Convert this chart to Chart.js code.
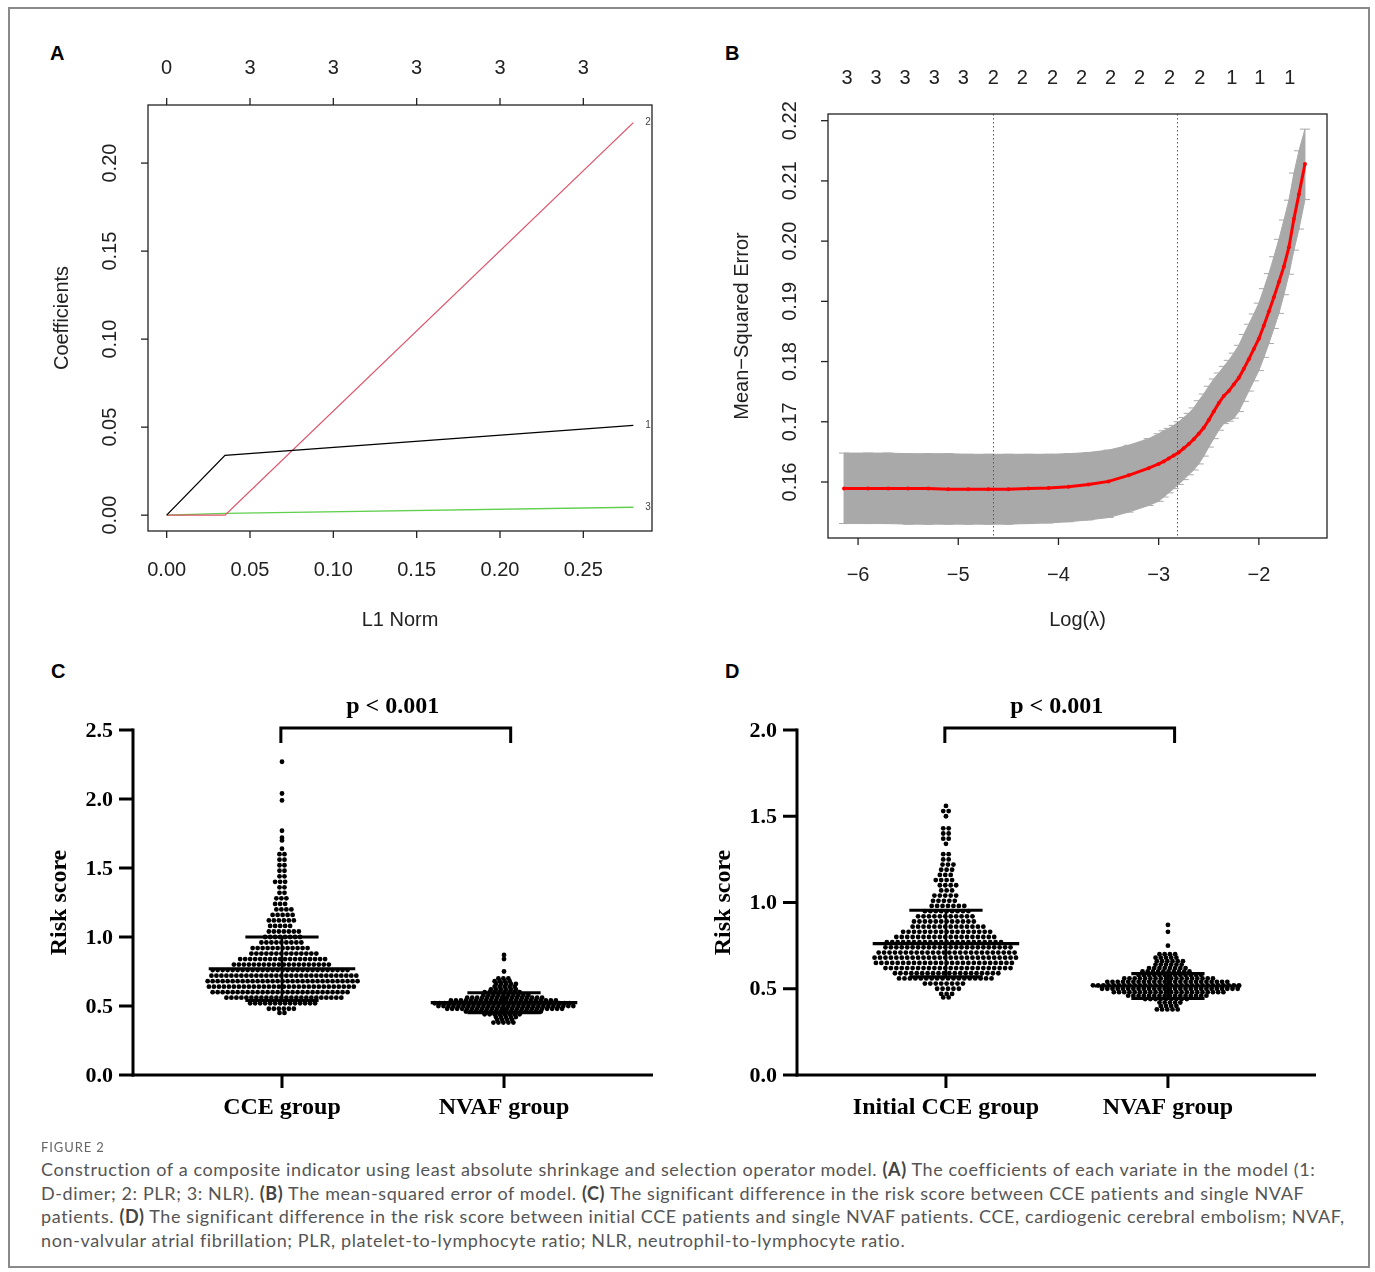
<!DOCTYPE html>
<html>
<head>
<meta charset="utf-8">
<script src="https://cdn.jsdelivr.net/npm/chart.js@4.4.0/dist/chart.umd.min.js"></script>
<style>
  body { margin: 0; background: #fff; width: 1375px; height: 1272px; position: relative; overflow: hidden; }
  .frame { position: absolute; left: 8px; top: 7px; width: 1358px; height: 1257px; border: 2px solid #8a8a8a; z-index: 5; pointer-events: none; }
  canvas { position: absolute; }
  .letter { position: absolute; font: bold 20px "Liberation Sans", Arial, sans-serif; line-height: 20px; color: #000; }
  #figlabel { position: absolute; left: 41px; top: 1139px; font: 13px Lato, sans-serif; color: #666; letter-spacing: 0.9px; }
  #caption { position: absolute; left: 41px; top: 1158px; font: 18px Lato, sans-serif; letter-spacing: 0.62px; line-height: 23.6px; color: #555; white-space: nowrap; }
  #caption b { color: #444; }
</style>
</head>
<body>
<div class="frame"></div>
<div class="letter" style="left:50px;top:43px">A</div>
<div class="letter" style="left:725px;top:43px">B</div>
<div class="letter" style="left:51px;top:661px">C</div>
<div class="letter" style="left:725px;top:661px">D</div>

<canvas id="chartA" width="680" height="640" style="left:20px;top:20px"></canvas>
<canvas id="chartB" width="670" height="640" style="left:700px;top:20px"></canvas>
<canvas id="chartC" width="680" height="480" style="left:20px;top:670px"></canvas>
<canvas id="chartD" width="670" height="480" style="left:700px;top:670px"></canvas>

<div id="figlabel">FIGURE 2</div>
<div id="caption">Construction of a composite indicator using least absolute shrinkage and selection operator model. <b>(A)</b> The coefficients of each variate in the model (1:<br>D-dimer; 2: PLR; 3: NLR). <b>(B)</b> The mean-squared error of model. <b>(C)</b> The significant difference in the risk score between CCE patients and single NVAF<br>patients. <b>(D)</b> The significant difference in the risk score between initial CCE patients and single NVAF patients. CCE, cardiogenic cerebral embolism; NVAF,<br>non-valvular atrial fibrillation; PLR, platelet-to-lymphocyte ratio; NLR, neutrophil-to-lymphocyte ratio.</div>

<script>
// ---- panel A: coefficient paths ----
const l1Norm = [0, 0.035, 0.28];
const coefDdimer = [0, 0.034, 0.051];
const coefPLR = [0, 0, 0.223];
const coefNLR = [0, 0.001, 0.0045];
const l1Ticks = [0, 0.05, 0.10, 0.15, 0.20, 0.25];
const dfTop = ['0', '3', '3', '3', '3', '3'];
const coefTicks = [0, 0.05, 0.10, 0.15, 0.20];

// ---- panel B: cross-validation curve ----
const logLambda = [-6.14, -5.9, -5.7, -5.5, -5.3, -5.1, -4.9, -4.7, -4.5, -4.3, -4.1, -3.9, -3.7, -3.5, -3.3, -3.1,
  -3.0, -2.95, -2.9, -2.85, -2.8, -2.75, -2.7, -2.65, -2.6, -2.55, -2.5, -2.45, -2.4, -2.35, -2.3, -2.25, -2.2,
  -2.15, -2.1, -2.05, -2.0, -1.95, -1.9, -1.85, -1.8, -1.75, -1.7, -1.65, -1.6, -1.54];
const cvm = [.1589, .1589, .1589, .1589, .1589, .1588, .1588, .1588, .1588, .1589, .1590, .1592, .1596, .1601, .1611, .1623,
  .1630, .1634, .1639, .1644, .1649, .1656, .1663, .1671, .1680, .1690, .1703, .1717, .1731, .1743, .1751, .1762, .1773,
  .1788, .1804, .1821, .1838, .1860, .1883, .1907, .1932, .1958, .1990, .2037, .2078, .2128];
const cvup = [.1648, .1648, .1648, .1647, .1647, .1647, .1646, .1646, .1646, .1646, .1646, .1647, .1649, .1653, .1661, .1672,
  .1680, .1685, .1689, .1694, .1700, .1707, .1714, .1723, .1735, .1746, .1759, .1771, .1781, .1792, .1802, .1814, .1827,
  .1845, .1862, .1879, .1897, .1921, .1946, .1974, .2003, .2035, .2068, .2113, .2150, .2186];
const cvlo = [.1531, .1531, .1531, .1530, .1530, .1530, .1530, .1530, .1530, .1531, .1532, .1534, .1537, .1541, .1550, .1561,
  .1568, .1575, .1582, .1589, .1596, .1604, .1612, .1620, .1630, .1643, .1658, .1672, .1686, .1697, .1701, .1706, .1717,
  .1734, .1751, .1768, .1785, .1807, .1830, .1855, .1880, .1911, .1945, .1985, .2020, .2069];
const lambdaMin = -4.653;
const lambda1se = -2.817;
const nzPos = [-6.11, -5.82, -5.53, -5.24, -4.95, -4.65, -4.36, -4.06, -3.77, -3.48, -3.19, -2.89, -2.59, -2.27, -1.99, -1.69];
const nzLabels = ['3', '3', '3', '3', '3', '2', '2', '2', '2', '2', '2', '2', '2', '1', '1', '1'];
const logTicks = [-6, -5, -4, -3, -2];
const mseTicks = [0.16, 0.17, 0.18, 0.19, 0.20, 0.21, 0.22];

// ---- panel C: risk score, CCE vs NVAF ----
const groupsC = ['CCE group', 'NVAF group'];
const cceScoreC = [2.27, 2.04, 1.99, 1.77, 1.72, 1.70, 1.64, 1.60, 1.56, 1.52, 1.48, 1.44, 1.40, 1.36, 1.32, 1.28, 1.24,
  1.20, 1.16, 1.12, 1.08, 1.04, 1.00, 0.96, 0.92, 0.88, 0.84, 0.80, 0.76, 0.72, 0.68, 0.64, 0.60, 0.56, 0.52, 0.48, 0.45];
const cceCountC = [1, 1, 1, 1, 1, 1, 1, 2, 2, 2, 2, 2, 3, 2, 2, 3, 3,
  4, 5, 6, 5, 7, 8, 9, 12, 14, 18, 20, 28, 30, 31, 30, 28, 24, 14, 6, 2];
const nvafScoreC = [0.87, 0.84, 0.75, 0.70, 0.68, 0.66, 0.64, 0.62, 0.60, 0.58, 0.56, 0.54, 0.52, 0.50, 0.48, 0.46, 0.44, 0.42, 0.40, 0.38];
const nvafCountC = [1, 1, 1, 3, 4, 5, 5, 6, 8, 10, 16, 22, 28, 28, 24, 16, 8, 5, 4, 5];
const meanC = [0.77, 0.524];
const sdC = [0.23, 0.072];
const riskTicksC = [0, 0.5, 1.0, 1.5, 2.0, 2.5];

// ---- panel D: risk score, initial CCE vs NVAF ----
const groupsD = ['Initial CCE group', 'NVAF group'];
const cceScoreD = [1.56, 1.53, 1.50, 1.43, 1.40, 1.37, 1.34, 1.28, 1.25, 1.22, 1.19, 1.16, 1.13, 1.10, 1.07, 1.04, 1.01,
  0.98, 0.95, 0.92, 0.89, 0.86, 0.83, 0.80, 0.77, 0.74, 0.71, 0.68, 0.65, 0.62, 0.59, 0.56, 0.53, 0.50, 0.47, 0.45];
const cceCountD = [1, 2, 1, 2, 2, 2, 1, 2, 2, 3, 3, 3, 4, 4, 3, 5, 5,
  7, 9, 11, 12, 14, 17, 19, 22, 24, 26, 27, 26, 24, 20, 18, 8, 5, 3, 2];
const nvafScoreD = [0.87, 0.83, 0.75, 0.70, 0.68, 0.66, 0.64, 0.62, 0.60, 0.58, 0.56, 0.54, 0.52, 0.50, 0.48, 0.46, 0.44, 0.42, 0.40, 0.38];
const nvafCountD = [1, 1, 1, 4, 5, 6, 6, 8, 10, 13, 18, 24, 29, 27, 22, 16, 9, 5, 4, 5];
const meanD = [0.762, 0.516];
const sdD = [0.193, 0.072];
const riskTicksD = [0, 0.5, 1.0, 1.5, 2.0];

const RFONT = '"Liberation Sans", Arial, sans-serif';
const SERIF = '"Liberation Serif", "Times New Roman", serif';

function seg(ctx, x1, y1, x2, y2) {
  ctx.beginPath(); ctx.moveTo(x1, y1); ctx.lineTo(x2, y2); ctx.stroke();
}
function vtext(ctx, s, x, y) {
  ctx.save(); ctx.translate(x, y); ctx.rotate(-Math.PI / 2); ctx.fillText(s, 0, 0); ctx.restore();
}
function pairs(xs, ys) { return xs.map((v, i) => ({ x: v, y: ys[i] })); }

// beeswarm rows: each value row is spread sideways around its group position,
// successive rows get a different sideways phase so the swarm is less grid-like
function swarm(vals, counts, center, step) {
  const pts = [];
  vals.forEach((v, r) => {
    const n = counts[r];
    const phase = n > 2 ? (((r * 3) % 4) / 4 - 0.375) * step : 0;
    for (let i = 0; i < n; i++) pts.push({ x: center + (i - (n - 1) / 2) * step + phase, y: v });
  });
  return pts;
}

const baseOpts = (pad, xs, ys) => ({
  responsive: false, animation: false, devicePixelRatio: 1,
  layout: { padding: pad },
  plugins: { legend: { display: false }, tooltip: { enabled: false } },
  scales: {
    x: Object.assign({ type: 'linear', display: false }, xs),
    y: Object.assign({ type: 'linear', display: false }, ys)
  }
});

// ---------- A ----------
const rAxesA = {
  id: 'rAxesA',
  afterDraw(chart) {
    const { ctx, chartArea: a, scales: { x, y } } = chart;
    ctx.save();
    ctx.strokeStyle = '#222'; ctx.fillStyle = '#222'; ctx.lineWidth = 1.3;
    ctx.strokeRect(a.left, a.top, a.right - a.left, a.bottom - a.top);
    ctx.font = '20px ' + RFONT; ctx.textAlign = 'center'; ctx.textBaseline = 'middle';
    l1Ticks.forEach((v, i) => {
      const px = x.getPixelForValue(v);
      seg(ctx, px, a.bottom, px, a.bottom + 7);
      ctx.fillText(v.toFixed(2), px, a.bottom + 39);
      seg(ctx, px, a.top, px, a.top - 7);
      ctx.fillText(dfTop[i], px, a.top - 37);
    });
    coefTicks.forEach(v => {
      const py = y.getPixelForValue(v);
      seg(ctx, a.left, py, a.left - 7, py);
      vtext(ctx, v.toFixed(2), a.left - 38, py);
    });
    ctx.fillText('L1 Norm', (a.left + a.right) / 2, a.bottom + 89);
    vtext(ctx, 'Coefficients', a.left - 86, (a.top + a.bottom) / 2);
    ctx.font = '10px ' + RFONT; ctx.fillStyle = '#444';
    const last = l1Norm.length - 1;
    [['1', coefDdimer], ['2', coefPLR], ['3', coefNLR]].forEach(([lab, arr]) => {
      ctx.fillText(lab, a.right - 4, y.getPixelForValue(arr[last]));
    });
    ctx.restore();
  }
};

new Chart(document.getElementById('chartA'), {
  type: 'line',
  data: {
    datasets: [
      { data: pairs(l1Norm, coefDdimer), borderColor: '#000', borderWidth: 1.3, pointRadius: 0, tension: 0 },
      { data: pairs(l1Norm, coefPLR), borderColor: '#DF536B', borderWidth: 1.3, pointRadius: 0, tension: 0 },
      { data: pairs(l1Norm, coefNLR), borderColor: '#61D04F', borderWidth: 1.3, pointRadius: 0, tension: 0 }
    ]
  },
  options: baseOpts({ left: 128, top: 85, right: 48, bottom: 129 },
    { min: -0.0112, max: 0.2912 }, { min: -0.009, max: 0.233 }),
  plugins: [rAxesA]
});

// ---------- B ----------
const rAxesB = {
  id: 'rAxesB',
  beforeDatasetsDraw(chart) {
    const { ctx, scales: { x, y } } = chart;
    ctx.save();
    ctx.strokeStyle = '#A9A9A9'; ctx.lineWidth = 1;
    logLambda.forEach((v, i) => {
      const x1 = x.getPixelForValue(v - 0.05), x2 = x.getPixelForValue(v + 0.05);
      seg(ctx, x1, y.getPixelForValue(cvup[i]), x2, y.getPixelForValue(cvup[i]));
      seg(ctx, x1, y.getPixelForValue(cvlo[i]), x2, y.getPixelForValue(cvlo[i]));
      const px = x.getPixelForValue(v);
      seg(ctx, px, y.getPixelForValue(cvup[i]), px, y.getPixelForValue(cvlo[i]));
    });
    ctx.restore();
  },
  afterDatasetsDraw(chart) {
    const { ctx, chartArea: a, scales: { x } } = chart;
    ctx.save();
    ctx.strokeStyle = '#555'; ctx.lineWidth = 1; ctx.setLineDash([1.5, 2.5]);
    [lambdaMin, lambda1se].forEach(v => {
      const px = Math.round(x.getPixelForValue(v)) + 0.5;
      seg(ctx, px, a.top, px, a.bottom);
    });
    ctx.restore();
  },
  afterDraw(chart) {
    const { ctx, chartArea: a, scales: { x, y } } = chart;
    ctx.save();
    ctx.strokeStyle = '#222'; ctx.fillStyle = '#222'; ctx.lineWidth = 1.3;
    ctx.strokeRect(a.left, a.top, a.right - a.left, a.bottom - a.top);
    ctx.font = '20px ' + RFONT; ctx.textAlign = 'center'; ctx.textBaseline = 'middle';
    logTicks.forEach(v => {
      const px = x.getPixelForValue(v);
      seg(ctx, px, a.bottom, px, a.bottom + 7);
      ctx.fillText('\u2212' + Math.abs(v), px, a.bottom + 37);
    });
    mseTicks.forEach(v => {
      const py = y.getPixelForValue(v);
      seg(ctx, a.left, py, a.left - 7, py);
      vtext(ctx, v.toFixed(2), a.left - 38, py);
    });
    nzPos.forEach((v, i) => ctx.fillText(nzLabels[i], x.getPixelForValue(v), a.top - 36));
    ctx.fillText('Log(\u03bb)', (a.left + a.right) / 2, a.bottom + 82);
    vtext(ctx, 'Mean\u2212Squared Error', a.left - 86, (a.top + a.bottom) / 2);
    ctx.restore();
  }
};

new Chart(document.getElementById('chartB'), {
  type: 'line',
  data: {
    datasets: [
      { data: pairs(logLambda, cvm), borderColor: '#FF0000', borderWidth: 3, pointRadius: 2,
        pointBackgroundColor: '#FF0000', pointBorderWidth: 0, tension: 0, fill: false },
      { data: pairs(logLambda, cvup), borderColor: '#A9A9A9', borderWidth: 1, pointRadius: 0,
        backgroundColor: '#A9A9A9', fill: '+1', tension: 0 },
      { data: pairs(logLambda, cvlo), borderColor: '#A9A9A9', borderWidth: 1, pointRadius: 0, fill: false, tension: 0 }
    ]
  },
  options: baseOpts({ left: 128, top: 94, right: 43, bottom: 122 },
    { min: -6.30, max: -1.32 }, { min: 0.1507, max: 0.22111 }),
  plugins: [rAxesB]
});

// ---------- C & D ----------
function prismPlugin(id, o) {
  return {
    id,
    afterDatasetsDraw(chart) {
      const { ctx, scales: { x, y } } = chart;
      ctx.save();
      ctx.strokeStyle = '#000';
      o.means.forEach((m, i) => {
        const g = i + 1, cx = x.getPixelForValue(g);
        const hw = x.getPixelForValue(g + 0.33) - cx, cw = x.getPixelForValue(g + 0.165) - cx;
        const ym = y.getPixelForValue(m), yu = y.getPixelForValue(m + o.sds[i]), yl = y.getPixelForValue(m - o.sds[i]);
        ctx.lineWidth = 2.5; seg(ctx, cx, yu, cx, yl);
        ctx.lineWidth = 3.2;
        seg(ctx, cx - hw, ym, cx + hw, ym);
        seg(ctx, cx - cw, yu, cx + cw, yu);
        seg(ctx, cx - cw, yl, cx + cw, yl);
      });
      ctx.restore();
    },
    afterDraw(chart) {
      const { ctx, chartArea: a, scales: { x, y } } = chart;
      ctx.save();
      ctx.strokeStyle = '#000'; ctx.fillStyle = '#000'; ctx.lineWidth = 3;
      seg(ctx, a.left, a.top - 1.5, a.left, a.bottom + 1.5);
      seg(ctx, a.left - 1.5, a.bottom, a.right, a.bottom);
      ctx.font = 'bold 22px ' + SERIF; ctx.textAlign = 'right'; ctx.textBaseline = 'middle';
      o.ticks.forEach(v => {
        const py = y.getPixelForValue(v);
        seg(ctx, a.left - 14, py, a.left, py);
        ctx.fillText(v.toFixed(1), a.left - 20, py + 1);
      });
      ctx.font = 'bold 24px ' + SERIF; ctx.textAlign = 'center';
      o.groups.forEach((g, i) => {
        const px = x.getPixelForValue(i + 1);
        seg(ctx, px, a.bottom, px, a.bottom + 13);
        ctx.fillText(g, px, a.bottom + 33);
      });
      vtext(ctx, 'Risk score', a.left - 73, (a.top + a.bottom) / 2);
      const bx1 = x.getPixelForValue(0.995), bx2 = x.getPixelForValue(2.03), by = a.top - 2;
      ctx.lineJoin = 'miter';
      ctx.beginPath(); ctx.moveTo(bx1, a.top + 13); ctx.lineTo(bx1, by); ctx.lineTo(bx2, by); ctx.lineTo(bx2, a.top + 13); ctx.stroke();
      ctx.fillText('p < 0.001', (bx1 + bx2) / 2 - 3, a.top - 23);
      ctx.restore();
    }
  };
}

const dotStyle = { pointRadius: 2.4, pointBackgroundColor: '#000', pointBorderWidth: 0, showLine: false };

new Chart(document.getElementById('chartC'), {
  type: 'scatter',
  data: {
    datasets: [
      Object.assign({ data: swarm(cceScoreC, cceCountC, 1, 0.0225) }, dotStyle),
      Object.assign({ data: swarm(nvafScoreC, nvafCountC, 2, 0.0225) }, dotStyle)
    ]
  },
  options: baseOpts({ left: 113, top: 60, right: 47, bottom: 75 },
    { min: 0.329, max: 2.671 }, { min: 0, max: 2.5 }),
  plugins: [prismPlugin('prismC', { means: meanC, sds: sdC, ticks: riskTicksC, groups: groupsC })]
});

new Chart(document.getElementById('chartD'), {
  type: 'scatter',
  data: {
    datasets: [
      Object.assign({ data: swarm(cceScoreD, cceCountD, 1, 0.0245) }, dotStyle),
      Object.assign({ data: swarm(nvafScoreD, nvafCountD, 2, 0.0235) }, dotStyle)
    ]
  },
  options: baseOpts({ left: 97, top: 60, right: 54, bottom: 75 },
    { min: 0.329, max: 2.667 }, { min: 0, max: 2.0 }),
  plugins: [prismPlugin('prismD', { means: meanD, sds: sdD, ticks: riskTicksD, groups: groupsD })]
});
</script>
</body>
</html>
